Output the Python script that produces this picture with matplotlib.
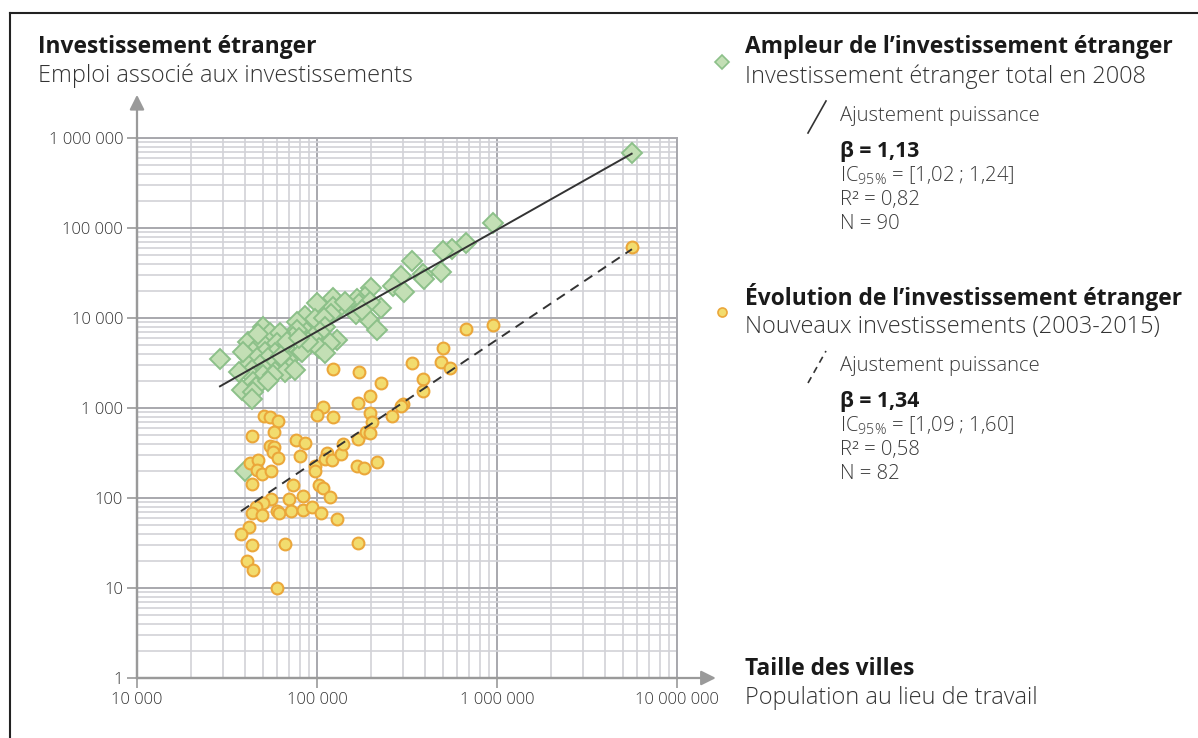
import numpy as np
import matplotlib.pyplot as plt
from matplotlib.lines import Line2D
from matplotlib.ticker import FixedLocator, FixedFormatter, LogLocator, NullFormatter

plt.rcParams['font.family'] = ['Open Sans', 'DejaVu Sans']
plt.rcParams['mathtext.fontset'] = 'custom'
plt.rcParams['mathtext.rm'] = 'Open Sans:light'

# Ampleur de l'investissement étranger (2008)
pop_total = [5600000, 946000, 670000, 560000, 503000, 489000, 338000, 387000, 393000, 293000,
             263000, 303000, 228000, 199000, 185000, 167000, 172000, 197000, 165000, 195000,
             215000, 123000, 135000, 123000, 120000, 129000, 118000, 99600, 85800, 97500,
             109000, 111000, 104000, 82200, 95400, 102000, 111000, 82200, 28900, 77100,
             77100, 73900, 50300, 54800, 62300, 41500, 49300, 59700, 66400, 44300,
             51400, 58400, 41500, 46200, 53600, 69300, 41500, 48200, 57200, 70800,
             43400, 51400, 58400, 66400, 75500, 44300, 50300, 57200, 44300, 45800,
             38200, 44300, 43400, 39800, 38800, 47000, 63100, 53400, 89100, 143000,
             178000, 68100, 36900, 79400]
emp_total = [681000, 113000, 68700, 57900, 55500, 32700, 43000, 30800, 26900, 29300,
             22700, 19500, 13000, 21700, 17300, 16100, 14300, 15200, 11100, 9500,
             7360, 16500, 13300, 13400, 11100, 5650, 5240, 14600, 10400, 9630,
             9930, 8000, 7050, 7690, 6200, 4600, 4110, 4220, 3480, 9100,
             7360, 6200, 8000, 6760, 6760, 5450, 5240, 5240, 4600, 4220,
             4220, 4050, 3720, 3570, 3570, 3410, 3000, 3000, 3000, 2760,
             2640, 2640, 2530, 2530, 2640, 2230, 2330, 2330, 1960, 1730,
             1580, 1520, 1250, 200, 4190, 6640, 3780, 2000, 5410, 15100,
             12300, 5410, 2510, 6000]

# Évolution : nouveaux investissements (2003-2015)
pop_new = [108000, 168000, 50800, 54800, 60500, 99600, 123000, 197000, 201000, 43400,
           57700, 76400, 85800, 54800, 57700, 57200, 61000, 80500, 113000, 111000,
           121000, 136000, 140000, 168000, 187000, 197000, 215000, 166000, 182000, 42400,
           46800, 46200, 49300, 55300, 43400, 97500, 97500, 73300, 102000, 108000,
           118000, 83300, 70200, 55300, 50300, 45800, 43400, 49700, 60200, 61800,
           71700, 83300, 93500, 105000, 129000, 42000, 37800, 43400, 66400, 168000,
           40700, 43900, 59700, 675000, 953000, 501000, 489000, 550000, 337000, 387000,
           390000, 228000, 197000, 302000, 292000, 262000, 122000, 172000, 5620000]
emp_new = [1030, 1130, 815, 800, 723, 836, 788, 873, 705, 489,
           537, 441, 405, 378, 373, 327, 281, 293, 314, 269,
           264, 306, 398, 449, 546, 524, 249, 229, 217, 243,
           264, 205, 185, 200, 143, 227, 200, 139, 139, 128,
           103, 105, 97, 97, 89, 79, 69, 65, 72, 69,
           72, 74, 79, 68, 58, 48, 40, 30, 31, 32,
           20, 16, 10, 7490, 8300, 4640, 3250, 2780, 3140, 2080,
           1560, 1900, 1370, 1120, 1050, 809, 2730, 2530, 61000]

# ajustements puissance y = a * x^beta
beta_total, log_a_total = 1.13, -1.80
beta_new, log_a_new = 1.34, -4.28

x_ticks = [1e4, 1e5, 1e6, 1e7]
x_labels = ['10 000', '100 000', '1 000 000', '10 000 000']
y_ticks = [1, 10, 100, 1e3, 1e4, 1e5, 1e6]
y_labels = ['1', '10', '100', '1 000', '10 000', '100 000', '1 000 000']

W, H = 1198, 738
fig = plt.figure(figsize=(W / 100, H / 100), dpi=100)
ax = fig.add_axes([137 / W, 1 - 678 / H, 540 / W, 540 / H])

ax.set_xscale('log')
ax.set_yscale('log')
ax.set_xlim(1e4, 1e7)
ax.set_ylim(1, 1e6)

ax.xaxis.set_major_locator(FixedLocator(x_ticks))
ax.xaxis.set_major_formatter(FixedFormatter(x_labels))
ax.yaxis.set_major_locator(FixedLocator(y_ticks))
ax.yaxis.set_major_formatter(FixedFormatter(y_labels))
for axis in (ax.xaxis, ax.yaxis):
    axis.set_minor_locator(LogLocator(base=10, subs=np.arange(2, 10), numticks=100))
    axis.set_minor_formatter(NullFormatter())

ax.grid(which='major', color='#a8a8ad', lw=1.4, zorder=0)
ax.grid(which='minor', color='#d2d2d7', lw=1.2, zorder=0)
ax.set_axisbelow(True)
ax.tick_params(which='minor', length=0)
ax.tick_params(which='major', length=7, width=1.2, color='#999999',
               labelsize=12, labelcolor='#333333', pad=3)
for lab in ax.get_xticklabels() + ax.get_yticklabels():
    lab.set_fontweight('light')

for s in ('top', 'right'):
    ax.spines[s].set_color('#a8a8ad')
    ax.spines[s].set_linewidth(1.4)
for s in ('left', 'bottom'):
    ax.spines[s].set_color('#9a9a9a')
    ax.spines[s].set_linewidth(1.6)

# flèches des axes
arrow = dict(arrowstyle='-|>', color='#9a9a9a', lw=1.6, mutation_scale=22,
             shrinkA=0, shrinkB=0)
ax.annotate('', xy=(1.072, 0), xytext=(0, 0), xycoords='axes fraction',
            arrowprops=arrow, annotation_clip=False)
ax.annotate('', xy=(0, 1.08), xytext=(0, 0), xycoords='axes fraction',
            arrowprops=arrow, annotation_clip=False)

ax.plot(pop_total, emp_total, ls='none', marker='D', ms=10, mfc='#c3dfb5',
        mec='#8cc089', mew=1.4, zorder=3)
ax.plot(pop_new, emp_new, ls='none', marker='o', ms=8.5, mfc='#f2dc6e',
        mec='#eba73a', mew=1.5, zorder=3.5)

xt = np.array([min(pop_total), max(pop_total)])
ax.plot(xt, 10 ** log_a_total * xt ** beta_total, color='#333333', lw=1.4, zorder=5)
xn = np.array([min(pop_new), max(pop_new)])
ax.plot(xn, 10 ** log_a_new * xn ** beta_new, color='#333333', lw=1.4,
        dashes=(5, 3.5), zorder=5)


def fx(px):
    return px / W


def fy(py):
    return 1 - py / H


bold = dict(fontsize=16.4, fontweight='bold', color='#1a1a1a', va='center')
sub = dict(fontsize=16.9, fontweight='light', color='#333333', va='center')
small = dict(fontsize=14.6, fontweight='light', color='#3a3a3a', va='center')

fig.text(fx(38), fy(47), 'Investissement étranger', **bold)
fig.text(fx(38), fy(76), 'Emploi associé aux investissements', **sub)
fig.text(fx(745), fy(669), 'Taille des villes', **bold)
fig.text(fx(745), fy(698), 'Population au lieu de travail', **sub)

blocks = [
    (47, 'Ampleur de l’investissement étranger', 'Investissement étranger total en 2008',
     beta_total, '1,02 ; 1,24', '0,82', '90', '-'),
    (297, 'Évolution de l’investissement étranger', 'Nouveaux investissements (2003-2015)',
     beta_new, '1,09 ; 1,60', '0,58', '82', '--'),
]
for y0, title, subtitle, beta, ci, r2, n, ls in blocks:
    fig.text(fx(745), fy(y0), title, **bold)
    fig.text(fx(745), fy(y0 + 30), subtitle, **sub)
    fig.add_artist(Line2D([fx(808), fx(826)], [fy(y0 + 86), fy(y0 + 54)],
                          color='#333333', lw=1.2, ls=ls,
                          dashes=(4, 3) if ls == '--' else (None, None)))
    fig.text(fx(840), fy(y0 + 69), 'Ajustement puissance', **small)
    fig.text(fx(840), fy(y0 + 104), 'β = ' + f'{beta:.2f}'.replace('.', ','),
             fontsize=15.2, fontweight='bold', color='#1a1a1a', va='center')
    fig.text(fx(840), fy(y0 + 129), r'IC$_{\mathrm{95\%}}$ = [' + ci + ']', **small)
    fig.text(fx(840), fy(y0 + 153), 'R² = ' + r2, **small)
    fig.text(fx(840), fy(y0 + 177), 'N = ' + n, **small)

# symboles des légendes
fig.add_artist(Line2D([fx(722)], [fy(62)], marker='D', ms=7, mfc='#c3dfb5',
                      mec='#8cc089', mew=1.2, ls='none'))
fig.add_artist(Line2D([fx(722)], [fy(312)], marker='o', ms=6.5, mfc='#f2dc6e',
                      mec='#eba73a', mew=1.2, ls='none'))

# cadre
fig.add_artist(Line2D([fx(10), 1], [fy(13), fy(13)], color='#222222', lw=1.5))
fig.add_artist(Line2D([fx(10), fx(10)], [fy(13), 0], color='#222222', lw=1.5))

fig.savefig('out.png', dpi=100)
